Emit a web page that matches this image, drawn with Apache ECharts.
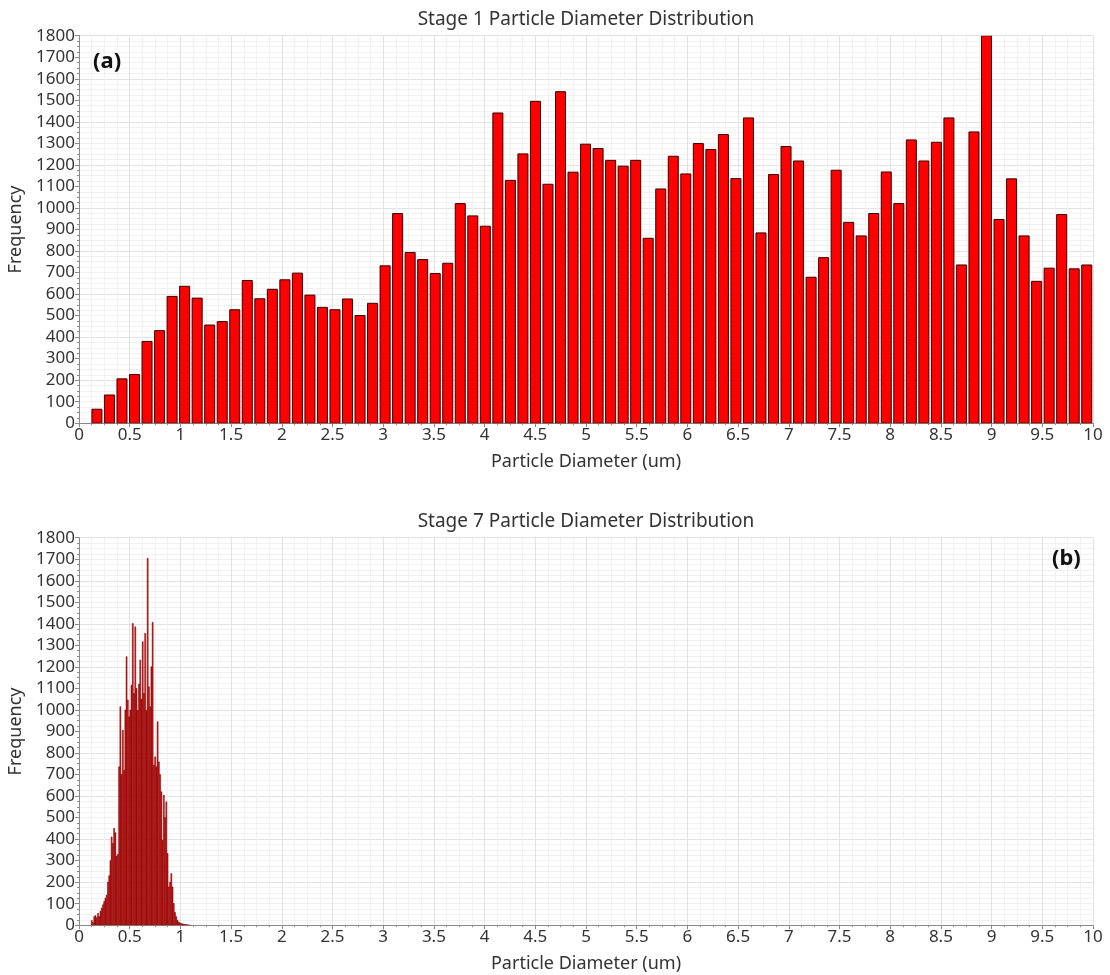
<!DOCTYPE html>
<html>
<head>
<meta charset="utf-8">
<script src="https://cdn.jsdelivr.net/npm/echarts@6/dist/echarts.min.js"></script>
<style>
html,body{margin:0;padding:0;background:#fff;}
#chart{width:1110px;height:975px;}
</style>
</head>
<body>
<div id="chart"></div>
<script>
// ---------------- DATA ----------------
const titles = ['Stage 1 Particle Diameter Distribution', 'Stage 7 Particle Diameter Distribution'];
const panelLabels = ['(a)', '(b)'];
const xAxisName = 'Particle Diameter (um)';
const yAxisName = 'Frequency';

// Stage 1: 80 bins between these diameters (um)
const stage1Range = [0.115, 10.0];
const stage1Counts = [
  65, 131, 206, 226, 380, 430, 589, 636, 581, 456,
  472, 527, 663, 578, 622, 666, 697, 595, 538, 527,
  577, 500, 557, 731, 974, 793, 760, 695, 743, 1020,
  963, 915, 1441, 1128, 1251, 1495, 1110, 1540, 1166, 1296,
  1276, 1221, 1194, 1221, 859, 1088, 1240, 1158, 1299, 1271,
  1341, 1136, 1418, 884, 1155, 1285, 1218, 678, 769, 1175,
  933, 870, 974, 1167, 1020, 1316, 1218, 1305, 1418, 735,
  1353, 1800, 946, 1135, 870, 659, 720, 969, 717, 735
];

// Stage 7: 80 bins between these diameters (um)
const stage7Range = [0.12, 1.10];
const stage7Counts = [
  22, 12, 40, 45, 35, 55, 40, 65, 80, 95,
  110, 125, 140, 200, 230, 300, 410, 380, 450, 430,
  320, 330, 736, 1015, 700, 906, 720, 1000, 1247, 1046,
  968, 1000, 1115, 1402, 1077, 1386, 1100, 999, 1120, 1232,
  1050, 1317, 1077, 1356, 999, 1704, 1108, 1015, 1200, 1407,
  744, 782, 736, 945, 759, 700, 620, 395, 604, 500,
  573, 333, 178, 200, 240, 178, 101, 60, 40, 23,
  15, 11, 8, 6, 5, 4, 3, 2, 1, 1
];

const xTicks = {min: 0, max: 10, interval: 0.5};
const yTicks = {min: 0, max: 1800, interval: 100};

// ---------------- BUILD ----------------
function binData(range, counts) {
  const w = (range[1] - range[0]) / counts.length;
  return counts.map((c, i) => [range[0] + i * w, range[0] + (i + 1) * w, c]);
}

const FONT = '"Noto Sans", "Open Sans", sans-serif';
const TXT = '#333333';
const AXIS = '#8a8a8a';
const MAJOR = '#e2e2e2';
const MINOR = '#f1f1f1';

const gridTop = [35.7, 537.7];
const gridH = 387.5;

function makeX(gi) {
  return {
    type: 'value', gridIndex: gi, min: xTicks.min, max: xTicks.max, interval: xTicks.interval,
    position: 'bottom',
    name: xAxisName, nameLocation: 'middle', nameGap: 30,
    nameTextStyle: {color: TXT, fontSize: 18, fontFamily: FONT},
    axisLine: {show: true, onZero: false, lineStyle: {color: AXIS, width: 1}},
    axisTick: {show: true, length: 4, lineStyle: {color: AXIS}},
    minorTick: {show: true, splitNumber: 4, length: 2, lineStyle: {color: AXIS}},
    axisLabel: {color: TXT, fontSize: 17, fontFamily: FONT, margin: 3,
      formatter: v => String(Math.round(v * 10) / 10)},
    splitLine: {show: true, lineStyle: {color: MAJOR, width: 1}},
    minorSplitLine: {show: true, lineStyle: {color: MINOR, width: 1}}
  };
}
function makeYLabels(gi) {
  return {
    type: 'value', gridIndex: gi, min: yTicks.min, max: yTicks.max, interval: yTicks.interval,
    position: 'left',
    name: yAxisName, nameLocation: 'middle', nameGap: 44, nameRotate: 90,
    nameTextStyle: {color: TXT, fontSize: 18, fontFamily: FONT},
    axisLine: {show: true, onZero: false, lineStyle: {color: AXIS, width: 1}},
    axisTick: {show: true, length: 4, lineStyle: {color: AXIS}},
    minorTick: {show: true, splitNumber: 4, length: 2, lineStyle: {color: AXIS}},
    axisLabel: {color: TXT, fontSize: 17, fontFamily: FONT, margin: 4,
      formatter: v => String(v)},
    splitLine: {show: false}
  };
}
function makeYGrid(gi) {
  return {
    type: 'value', gridIndex: gi, min: yTicks.min, max: yTicks.max, interval: yTicks.interval * 2,
    position: 'left',
    axisLine: {show: false}, axisTick: {show: false}, axisLabel: {show: false},
    splitLine: {show: true, lineStyle: {color: MAJOR, width: 1}},
    minorSplitLine: {show: true, lineStyle: {color: MINOR, width: 1}},
    minorTick: {show: false, splitNumber: 8}
  };
}

function histSeries(xi, yi, data, fill, stroke, lw, ratio) {
  return {
    type: 'custom', xAxisIndex: xi, yAxisIndex: yi, clip: true, z: 5,
    data: data,
    encode: {x: [0, 1], y: 2},
    renderItem: function (params, api) {
      const a = api.value(0), b = api.value(1), v = api.value(2);
      const pad = (b - a) * (1 - ratio) / 2;
      const p0 = api.coord([a + pad, v]);
      const p1 = api.coord([b - pad, 0]);
      return {
        type: 'rect',
        shape: {x: p0[0], y: p0[1], width: p1[0] - p0[0], height: p1[1] - p0[1]},
        style: {fill: fill, stroke: stroke, lineWidth: lw}
      };
    }
  };
}

const chart = echarts.init(document.getElementById('chart'), null, {renderer: 'canvas'});
const option = {
  backgroundColor: '#ffffff',
  animation: false,
  grid: [
    {left: 79, right: 17, top: gridTop[0], height: gridH, containLabel: false, outerBoundsMode: 'none'},
    {left: 79, right: 17, top: gridTop[1], height: gridH, containLabel: false, outerBoundsMode: 'none'}
  ],
  xAxis: [makeX(0), makeX(1)],
  yAxis: [makeYGrid(0), makeYLabels(0), makeYGrid(1), makeYLabels(1)],
  series: [
    histSeries(0, 1, binData(stage1Range, stage1Counts), '#ff0000', '#3a0000', 1, 0.8),
    histSeries(1, 3, binData(stage7Range, stage7Counts), '#ff0000', '#600000', 0.5, 0.8)
  ],
  graphic: [
    {type: 'text', x: 586, y: 10, z: 100, style: {text: titles[0], fill: TXT, fontSize: 19, fontFamily: FONT, textAlign: 'center'}},
    {type: 'text', x: 586, y: 512, z: 100, style: {text: titles[1], fill: TXT, fontSize: 19, fontFamily: FONT, textAlign: 'center'}},
    {type: 'text', x: 93, y: 51, z: 100, style: {text: panelLabels[0], fill: '#111111', fontSize: 22, fontWeight: 'bold', fontFamily: FONT}},
    {type: 'text', x: 1052, y: 548, z: 100, style: {text: panelLabels[1], fill: '#111111', fontSize: 22, fontWeight: 'bold', fontFamily: FONT}}
  ]
};
chart.setOption(option);
</script>
</body>
</html>
